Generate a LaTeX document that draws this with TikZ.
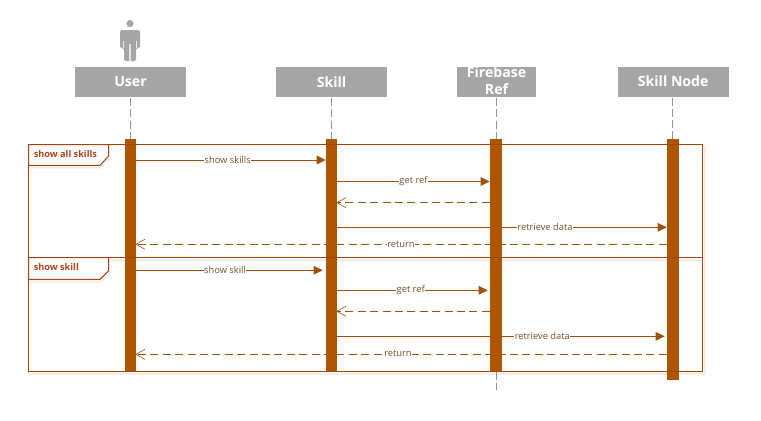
\documentclass[tikz,border=0pt]{standalone}
\usepackage{fontspec}
\setmainfont{Open Sans}
\usetikzlibrary{arrows.meta,backgrounds}
\definecolor{headgray}{HTML}{A6A6A6}
\definecolor{barbrown}{HTML}{AE5500}
\definecolor{framered}{HTML}{A5430F}
\definecolor{tabtext}{HTML}{B5431A}
\definecolor{msgline}{HTML}{A0520C}
\definecolor{msgtext}{HTML}{75502E}
\definecolor{shade}{HTML}{F8EDE8}
\def\px{0.75pt}
\tikzset{
  x=0.75pt,y=-0.75pt,
  head/.style={fill=headgray,draw=none,text=white,font=\fontsize{10.6pt}{13pt}\selectfont\bfseries,inner sep=0pt,minimum height=30*\px,align=center},
  life/.style={draw=gray!85,line width=0.6pt,dash pattern=on 6pt off 2.4pt},
  bar/.style={fill=barbrown,draw=none,inner sep=0pt,minimum width=#1*\px},
  fr/.style={draw=framered,line width=\px},
  tab/.style={draw=framered,line width=\px,fill=white},
  tabshade/.style={draw=shade,line width=2*\px},
  tablabel/.style={text=tabtext,font=\fontsize{6.9pt}{8pt}\selectfont\bfseries,inner sep=0pt,anchor=west},
  msg/.style={draw=msgline,line width=\px,-{Triangle[length=9*\px,width=8.5*\px,fill=msgline]}},
  ret/.style={draw=msgline,line width=\px,dash pattern=on 6pt off 3.3pt,shorten >=-0.7pt,-{Straight Barb[length=9*\px,width=10*\px,line width=0.45pt]}},
  lbl/.style={fill=white,text=msgtext,font=\fontsize{7pt}{8pt}\selectfont,inner xsep=0.4pt,inner ysep=0.6pt}
}
\begin{document}
\begin{tikzpicture}
\useasboundingbox (0,0) rectangle (761,421);
% actor
\fill[headgray] (130,23.6) circle (3.6);
\fill[headgray,rounded corners=1.2pt] (120,48) -- (120,30) -- (140,30) -- (140,48) -- (136,48) -- (136,61) -- (124,61) -- (124,48) -- cycle;
\fill[white!80!headgray] (122.8,41) rectangle (124,48);
\fill[white!80!headgray] (136,41) rectangle (137.2,48);
\fill[white!70!headgray] (129.4,44) rectangle (130.6,61);
% headers
\node[head,minimum width=111*\px] (user) at (130.5,82) {User};
\node[head,minimum width=111*\px] (skill) at (331.5,82) {Skill};
\node[head,minimum width=79*\px,path picture={\node[text=white,font=\fontsize{10.6pt}{13pt}\selectfont\bfseries,align=center,inner sep=0pt] at ([yshift=0.9pt]path picture bounding box.center) {Firebase\\Ref};}] (fire) at (496.5,82) {};
\node[head,minimum width=111*\px] (node) at (673.2,81.5) {Skill Node};
% activation bars
\node[bar=11,minimum height=233*\px] (ubar) at (130.5,255.5) {};
\node[bar=11,minimum height=233*\px] (sbar) at (331.5,255.5) {};
\node[bar=12,minimum height=233*\px] (fbar) at (496,255.5) {};
\node[bar=12,minimum height=241*\px] (nbar) at (673,259.5) {};
\coordinate (fend) at (496.5,390);
% lifelines
\draw[life] (user.south) ++(0,1) -- (ubar.north);
\draw[life] (skill.south) ++(0,1) -- (sbar.north);
\draw[life] (fire.south) ++(0,1) -- (fire.south |- fbar.north);
\draw[life] ([xshift=-0.5pt]node.south) ++(0,1) -- ([xshift=-0.5pt]node.south |- nbar.north);
\draw[life] (fire.south |- fbar.south) -- (fend);
% frame
\node[fr,minimum width=674*\px,minimum height=227*\px,inner sep=0pt] (frame) at (365.5,258) {};
\draw[fr] (frame.west |- 0,257.5) coordinate (da) -- (frame.east |- 0,257.5) coordinate (db);
% tabs
\coordinate (t1) at (28.5,144.5);
\coordinate (t2) at (28.5,257.5);
\draw[tab] (t1) -- ++(80.2,0) -- ++(0,11.5) -- ++(-8.7,9.3) -- ++(-71.5,0) -- cycle;
\draw[tab] (t2) -- ++(80.2,0) -- ++(0,13.2) -- ++(-8.7,8.6) -- ++(-71.5,0) -- cycle;
\node[tablabel] (tl1) at (33.5,154) {show all skills};
\node[tablabel] (tl2) at (33.5,267.5) {show skill};
% shadows and connectors behind bars
\begin{pgfonlayer}{background}
\draw[tabshade] (28,373.5) -- (704.5,373.5) -- (704.5,146);
\draw[tabshade] (29,260) -- (702,260);
\draw[tabshade] (29,167.5) -- (100.5,167.5) -- (110.5,157);
\draw[tabshade] (29,281.5) -- (100.5,281.5) -- (110.5,272);
\draw[msg] (ubar.east |- 0,160) -- (sbar.west |- 0,160);
\draw[msg] (sbar.east |- 0,181.5) -- (fbar.west |- 0,181.5);
\draw[ret] (fbar.west |- 0,202.7) -- (sbar.east |- 0,202.7);
\draw[msg] (sbar.east |- 0,227.3) -- (nbar.west |- 0,227.3);
\draw[ret] (nbar.west |- 0,244.3) -- (ubar.east |- 0,244.3);
\draw[msg] (ubar.east |- 0,270.3) -- ([xshift=-3*\px]sbar.west |- 0,270.3);
\draw[msg] (sbar.east |- 0,290.3) -- ([xshift=-2*\px]fbar.west |- 0,290.3);
\draw[ret] (fbar.west |- 0,311.3) -- (sbar.east |- 0,311.3);
\draw[msg] (sbar.east |- 0,336.3) -- ([xshift=-2*\px]nbar.west |- 0,336.3);
\draw[ret] (nbar.west |- 0,354.3) -- (ubar.east |- 0,354.3);
\end{pgfonlayer}
% labels
\node[lbl] (m1) at (227.7,160.2) {show skills};
\node[lbl] (m2) at (413.5,181.4) {get ref};
\node[lbl] (m4) at (545,226.9) {retrieve data};
\node[lbl] (m5) at (401,244.4) {return};
\node[lbl] (m6) at (225,269.9) {show skill};
\node[lbl] (m7) at (410.7,290.4) {get ref};
\node[lbl] (m9) at (542.3,335.9) {retrieve data};
\node[lbl] (m10) at (398,353.4) {return};
\end{tikzpicture}
\end{document}
